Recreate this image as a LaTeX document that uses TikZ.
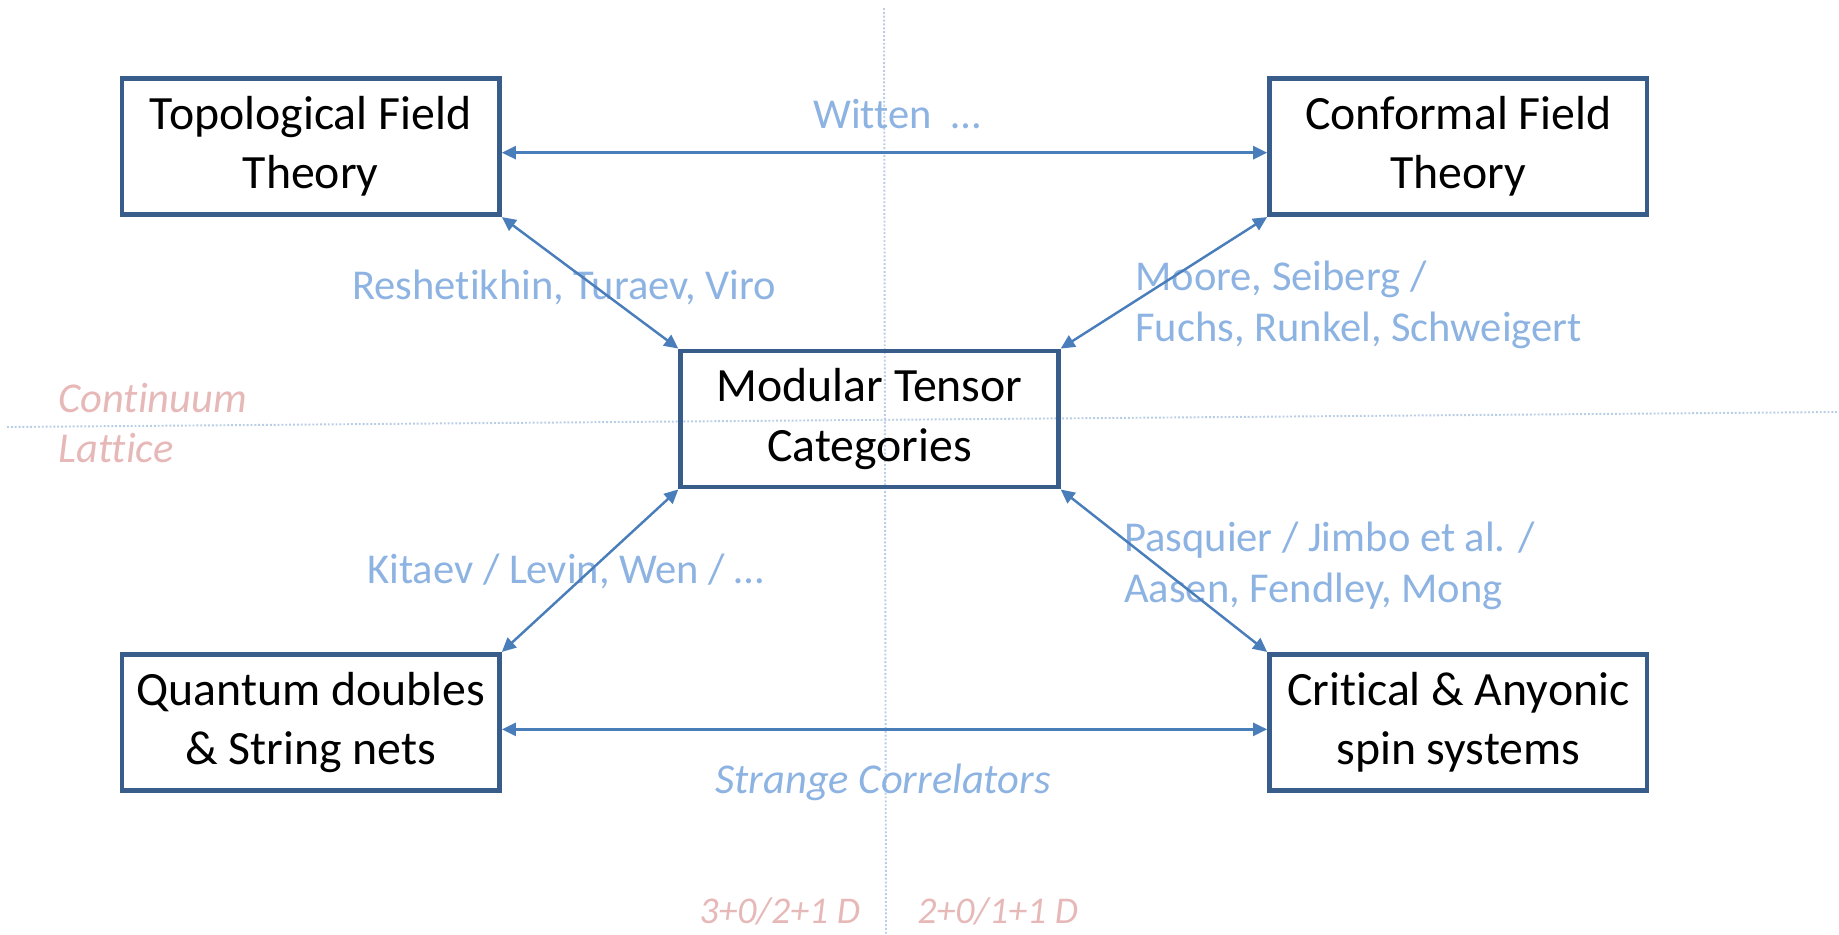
\documentclass[tikz,border=0pt]{standalone}
\usepackage{fontspec}
\setmainfont{Carlito}[Ligatures=NoCommon]
\usepackage{tikz}
\usetikzlibrary{positioning,arrows.meta}
\definecolor{boxblue}{RGB}{56, 93, 138}
\definecolor{arrowblue}{RGB}{74, 126, 187}
\definecolor{refblue}{RGB}{141, 179, 226}
\definecolor{dimpink}{RGB}{230, 185, 184}
\definecolor{guideblue}{RGB}{185, 205, 229}

\begin{document}
\begin{tikzpicture}[
    x=0.02cm, y=-0.02cm,
    font=\fontsize{27.2}{33.6}\selectfont,
    box/.style={draw=boxblue, line width=2.8pt, align=center, minimum width=7.55cm, minimum height=2.72cm, inner sep=0pt},
    ref/.style={text=refblue, font=\fontsize{24.2}{28.9}\selectfont, align=left, inner sep=0pt, anchor=base west},
    dim/.style={text=dimpink, font=\itshape\fontsize{24.2}{28.9}\selectfont, inner sep=0pt, anchor=base west},
    arr/.style={{Triangle[length=8pt,width=7.5pt]}-{Triangle[length=8pt,width=7.5pt]}, line width=1.4pt, draw=arrowblue},
    guide/.style={draw=guideblue, line width=1.1pt, dash pattern=on 1.1pt off 1.1pt}
]
\useasboundingbox (0,0) rectangle (1839,934);

% guides
\draw[guide] (884,8) -- (886,934);
\draw[guide] (7,427) -- (1839,412);

\node[box] (mtc) at (869.5,419) {Modular Tensor\\Categories};
\node[box, above left=2.63cm and 3.53cm of mtc] (tft) {Topological Field\\Theory};
\node[box, above right=2.63cm and 4.13cm of mtc] (cft) {Conformal Field\\Theory};
\node[box, below left=3.25cm and 3.53cm of mtc] (qd) {Quantum doubles\\\& String nets};
\node[box, below right=3.25cm and 4.13cm of mtc] (crit) {Critical \& Anyonic\\spin systems};

% base anchor = last line
\node[ref] (witten) at (813,128) {Witten~~…};
\node[ref] (rtv) at (352,299) {Reshetikhin, Turaev, Viro};
\node[ref] (msf) at (1135,341) {Moore, Seiberg /\\Fuchs, Runkel, Schweigert};
\node[ref] (klw) at (367,583) {Kitaev / Levin, Wen / …};
\node[ref] (pja) at (1124,602) {Pasquier / Jimbo et al. /\\Aasen, Fendley, Mong};
\node[ref, font=\itshape\fontsize{24.2}{28.9}\selectfont, anchor=base] (sc) at (883,793) {Strange Correlators};

\node[dim] (cont) at (58,412) {Continuum};
\node[dim] (latt) at (58,462) {Lattice};
\node[dim, font=\itshape\fontsize{21.5}{26}\selectfont] (dthree) at (699,923) {3+0/2+1 D};
\node[dim, font=\itshape\fontsize{21.5}{26}\selectfont] (dtwo) at (917,923) {2+0/1+1 D};

\draw[arr] ([yshift=-0.12cm]tft.east) -- ([yshift=-0.12cm]cft.west);
\draw[arr] ([yshift=-0.14cm]qd.east) -- ([yshift=-0.14cm]crit.west);
\draw[arr] (tft.south east) -- (mtc.north west);
\draw[arr] (cft.south west) -- (mtc.north east);
\draw[arr] (qd.north east) -- (mtc.south west);
\draw[arr] (crit.north west) -- (mtc.south east);
\end{tikzpicture}
\end{document}
